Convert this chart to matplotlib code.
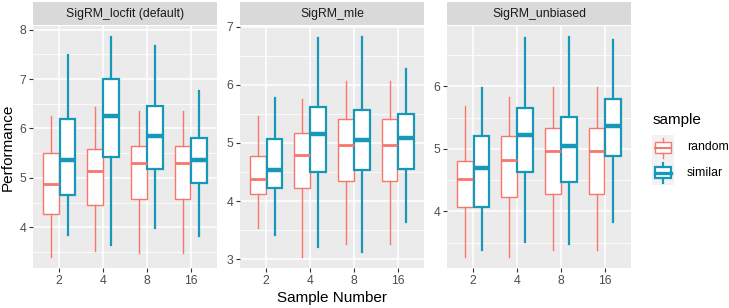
import matplotlib
matplotlib.use("Agg")
import matplotlib.pyplot as plt
from matplotlib.patches import Rectangle

plt.rcParams['font.family'] = ['Liberation Sans', 'DejaVu Sans']

panels = ['SigRM_locfit (default)', 'SigRM_mle', 'SigRM_unbiased']
samples = ['2', '4', '8', '16']
groups = ['random', 'similar']
colors = {'random': '#F8766D', 'similar': '#1699B8'}
yticks = [[4, 5, 6, 7, 8], [3, 4, 5, 6, 7], [4, 5, 6]]

# per panel, per group: lists over sample number (2, 4, 8, 16)
whislo = {
    'random': [[3.40, 3.52, 3.48, 3.48], [3.53, 3.04, 3.26, 3.26], [3.27, 3.27, 3.38, 3.38]],
    'similar': [[3.85, 3.65, 3.98, 3.83], [3.41, 3.21, 3.13, 3.64], [3.38, 3.51, 3.48, 3.83]],
}
q1 = {
    'random': [[4.27, 4.46, 4.58, 4.58], [4.12, 4.22, 4.34, 4.34], [4.07, 4.23, 4.28, 4.28]],
    'similar': [[4.66, 5.42, 5.19, 4.90], [4.23, 4.50, 4.54, 4.55], [4.07, 4.63, 4.47, 4.89]],
}
med = {
    'random': [[4.87, 5.14, 5.31, 5.31], [4.38, 4.79, 4.97, 4.97], [4.52, 4.82, 4.97, 4.97]],
    'similar': [[5.36, 6.26, 5.84, 5.36], [4.53, 5.16, 5.05, 5.09], [4.69, 5.22, 5.05, 5.37]],
}
q3 = {
    'random': [[5.50, 5.59, 5.65, 5.65], [4.78, 5.17, 5.41, 5.41], [4.81, 5.20, 5.34, 5.34]],
    'similar': [[6.20, 7.01, 6.45, 5.81], [5.07, 5.62, 5.57, 5.50], [5.21, 5.66, 5.51, 5.80]],
}
whishi = {
    'random': [[6.26, 6.43, 6.35, 6.35], [5.47, 5.76, 6.07, 6.07], [5.68, 5.83, 5.99, 5.99]],
    'similar': [[7.48, 7.85, 7.66, 6.75], [5.78, 6.80, 6.82, 6.27], [5.97, 6.78, 6.79, 6.75]],
}
lw = {'random': 1.0, 'similar': 1.6}

W, H = 729, 308
fig = plt.figure(figsize=(W / 100, H / 100), dpi=100)

lefts = [33, 240, 447]
pw = 184
top, bottom = 26, 268
tick_col = '#4D4D4D'

for p, title in enumerate(panels):
    ax = fig.add_axes([lefts[p] / W, (H - bottom) / H, pw / W, (bottom - top) / H])
    ax.set_facecolor('#EBEBEB')
    for g, grp in enumerate(groups):
        stats = []
        for i in range(len(samples)):
            stats.append(dict(whislo=whislo[grp][p][i], q1=q1[grp][p][i], med=med[grp][p][i],
                              q3=q3[grp][p][i], whishi=whishi[grp][p][i], fliers=[]))
        pos = [i + 1 + (g - 0.5) * 0.375 for i in range(len(samples))]
        c = colors[grp]
        ax.bxp(stats, positions=pos, widths=0.36, showcaps=False, patch_artist=True,
               boxprops=dict(facecolor='white', edgecolor=c, linewidth=lw[grp]),
               whiskerprops=dict(color=c, linewidth=lw[grp]),
               medianprops=dict(color=c, linewidth=lw[grp] * 2, solid_capstyle='butt'),
               zorder=3)
    lo = min(min(whislo[g][p]) for g in groups)
    hi = max(max(whishi[g][p]) for g in groups)
    pad = (hi - lo) * 0.05
    ax.set_xlim(0.4, 4.6)
    ax.set_xticks(range(1, len(samples) + 1))
    ax.set_xticklabels(samples)
    ax.set_yticks(yticks[p])
    ax.set_yticks([t + 0.5 for t in yticks[p]] + [yticks[p][0] - 0.5], minor=True)
    ax.grid(which='major', color='white', linewidth=1.1)
    ax.grid(which='minor', axis='y', color='white', linewidth=0.55)
    ax.set_axisbelow(True)
    for s in ax.spines.values():
        s.set_visible(False)
    ax.tick_params(which='major', length=3, width=0.8, color='#333333', labelsize=8.8,
                   labelcolor=tick_col, pad=2)
    ax.tick_params(which='minor', length=0)
    ax.set_ylim(lo - pad, hi + pad)

    sax = fig.add_axes([lefts[p] / W, (H - 25) / H, pw / W, 23 / H])
    sax.set_facecolor('#D9D9D9')
    sax.set_xticks([])
    sax.set_yticks([])
    for s in sax.spines.values():
        s.set_visible(False)
    sax.text(0.5, 0.5, title, ha='center', va='center', fontsize=8.8, color='#1A1A1A',
             transform=sax.transAxes)

fig.text(8 / W, 1 - 147 / H, 'Performance', rotation=90, ha='center', va='center', fontsize=11)
fig.text((lefts[1] + pw / 2) / W, 1 - 298 / H, 'Sample Number', ha='center', va='center',
         fontsize=11)

# legend
fig.text(653 / W, 1 - 120 / H, 'sample', ha='left', va='center', fontsize=11)
kx, ky, kw, kh = 652, 135, 22, 50
kax = fig.add_axes([kx / W, (H - ky - kh) / H, kw / W, kh / H])
kax.set_xlim(0, 1)
kax.set_ylim(0, len(groups))
kax.set_facecolor('#F2F2F2')
kax.set_xticks([])
kax.set_yticks([])
for s in kax.spines.values():
    s.set_visible(False)
for g, grp in enumerate(groups):
    y0 = len(groups) - 1 - g
    c = colors[grp]
    kax.add_patch(Rectangle((0.15, y0 + 0.28), 0.7, 0.44, facecolor='white', edgecolor=c,
                            linewidth=lw[grp]))
    kax.plot([0.5, 0.5], [y0 + 0.1, y0 + 0.28], color=c, linewidth=lw[grp])
    kax.plot([0.5, 0.5], [y0 + 0.72, y0 + 0.9], color=c, linewidth=lw[grp])
    kax.plot([0.15, 0.85], [y0 + 0.5, y0 + 0.5], color=c, linewidth=lw[grp] * 1.5)
    fig.text(687 / W, 1 - (ky + kh / 4 + g * kh / 2) / H, grp, ha='left', va='center',
             fontsize=8.8)

fig.savefig('out.png', dpi=100)
